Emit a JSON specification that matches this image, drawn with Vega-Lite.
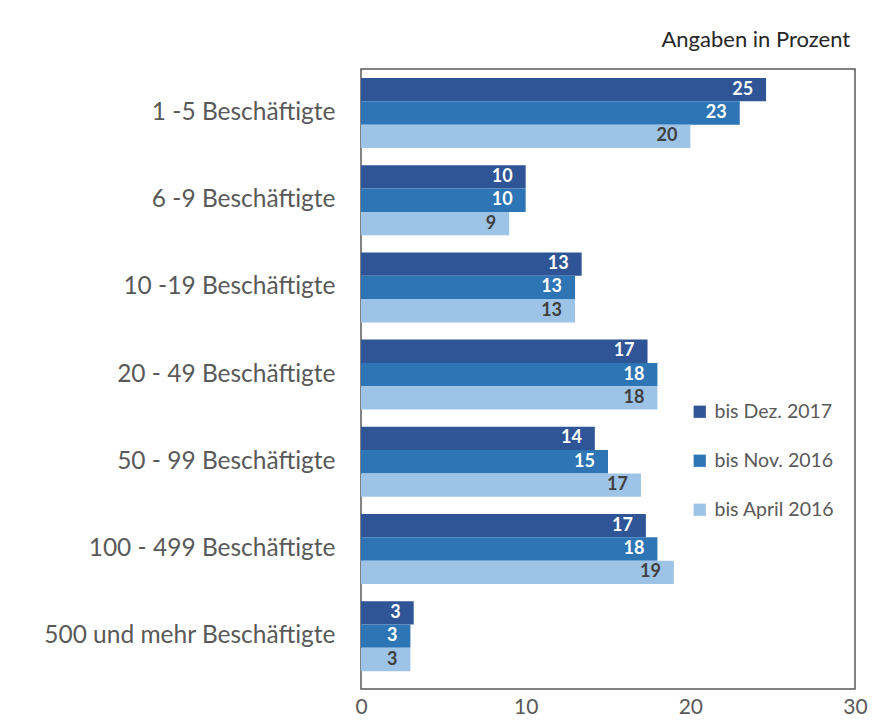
{
  "$schema": "https://vega.github.io/schema/vega-lite/v6.json",
  "width": 494,
  "height": 620,
  "autosize": "none",
  "padding": {"left": 361, "top": 69, "right": 19, "bottom": 31},
  "background": "white",
  "title": {
    "text": "Angaben in Prozent",
    "anchor": "end",
    "orient": "top",
    "font": "Lato",
    "fontSize": 22,
    "fontWeight": "normal",
    "color": "#262626",
    "offset": 17,
    "dx": -17
  },
  "config": {
    "view": {"stroke": "#595959", "strokeWidth": 1.5},
    "font": "Lato"
  },
  "data": {
    "values": [
      {"cat": "1 -5 Beschäftigte", "series": "bis Dez. 2017", "value": 24.6, "label": 25},
      {"cat": "1 -5 Beschäftigte", "series": "bis Nov. 2016", "value": 23.0, "label": 23},
      {"cat": "1 -5 Beschäftigte", "series": "bis April 2016", "value": 20.0, "label": 20},
      {"cat": "6 -9 Beschäftigte", "series": "bis Dez. 2017", "value": 10.0, "label": 10},
      {"cat": "6 -9 Beschäftigte", "series": "bis Nov. 2016", "value": 10.0, "label": 10},
      {"cat": "6 -9 Beschäftigte", "series": "bis April 2016", "value": 9.0, "label": 9},
      {"cat": "10 -19 Beschäftigte", "series": "bis Dez. 2017", "value": 13.4, "label": 13},
      {"cat": "10 -19 Beschäftigte", "series": "bis Nov. 2016", "value": 13.0, "label": 13},
      {"cat": "10 -19 Beschäftigte", "series": "bis April 2016", "value": 13.0, "label": 13},
      {"cat": "20 - 49 Beschäftigte", "series": "bis Dez. 2017", "value": 17.4, "label": 17},
      {"cat": "20 - 49 Beschäftigte", "series": "bis Nov. 2016", "value": 18.0, "label": 18},
      {"cat": "20 - 49 Beschäftigte", "series": "bis April 2016", "value": 18.0, "label": 18},
      {"cat": "50 - 99  Beschäftigte", "series": "bis Dez. 2017", "value": 14.2, "label": 14},
      {"cat": "50 - 99  Beschäftigte", "series": "bis Nov. 2016", "value": 15.0, "label": 15},
      {"cat": "50 - 99  Beschäftigte", "series": "bis April 2016", "value": 17.0, "label": 17},
      {"cat": "100 - 499 Beschäftigte", "series": "bis Dez. 2017", "value": 17.3, "label": 17},
      {"cat": "100 - 499 Beschäftigte", "series": "bis Nov. 2016", "value": 18.0, "label": 18},
      {"cat": "100 - 499 Beschäftigte", "series": "bis April 2016", "value": 19.0, "label": 19},
      {"cat": "500 und mehr Beschäftigte", "series": "bis Dez. 2017", "value": 3.2, "label": 3},
      {"cat": "500 und mehr Beschäftigte", "series": "bis Nov. 2016", "value": 3.0, "label": 3},
      {"cat": "500 und mehr Beschäftigte", "series": "bis April 2016", "value": 3.0, "label": 3}
    ]
  },
  "encoding": {
    "y": {
      "field": "cat",
      "type": "nominal",
      "sort": null,
      "scale": {"paddingInner": 0.197, "paddingOuter": 0.154, "align": 0.336},
      "axis": {
        "title": null,
        "ticks": false,
        "domain": false,
        "labelFont": "Lato",
        "labelFontSize": 24.5,
        "labelColor": "#595959",
        "labelPadding": 26,
        "labelLimit": 400
      }
    },
    "yOffset": {
      "field": "series",
      "type": "nominal",
      "sort": ["bis Dez. 2017", "bis Nov. 2016", "bis April 2016"],
      "scale": {"paddingInner": 0, "paddingOuter": 0}
    },
    "x": {
      "field": "value",
      "type": "quantitative",
      "scale": {"domain": [0, 30], "nice": false},
      "axis": {
        "title": null,
        "values": [0, 10, 20, 30],
        "grid": false,
        "ticks": false,
        "domain": false,
        "labelFont": "Lato",
        "labelFontSize": 21,
        "labelColor": "#595959",
        "labelPadding": 7,
        "labelFlush": false
      }
    }
  },
  "layer": [
    {
      "mark": {"type": "bar", "cornerRadius": 0},
      "encoding": {
        "color": {
          "field": "series",
          "type": "nominal",
          "sort": ["bis Dez. 2017", "bis Nov. 2016", "bis April 2016"],
          "scale": {
            "domain": ["bis Dez. 2017", "bis Nov. 2016", "bis April 2016"],
            "range": ["#2F5597", "#2E75B6", "#9DC3E6"]
          },
          "legend": {
            "title": null,
            "orient": "none",
            "legendX": 329,
            "legendY": 333,
            "symbolType": "square",
            "symbolSize": 150,
            "symbolStrokeWidth": 0,
            "symbolOpacity": 1,
            "labelFont": "Lato",
            "labelFontSize": 19.5,
            "labelColor": "#595959",
            "labelOffset": 5,
            "rowPadding": 28,
            "labelLimit": 300
          }
        }
      }
    },
    {
      "mark": {"type": "text", "align": "right", "baseline": "middle", "dx": -13, "fontWeight": "bold", "fontSize": 18, "font": "Lato"},
      "encoding": {
        "text": {"field": "label", "type": "quantitative"},
        "color": {
          "condition": {"test": "datum.series === 'bis April 2016'", "value": "#404040"},
          "value": "white"
        }
      }
    }
  ]
}
